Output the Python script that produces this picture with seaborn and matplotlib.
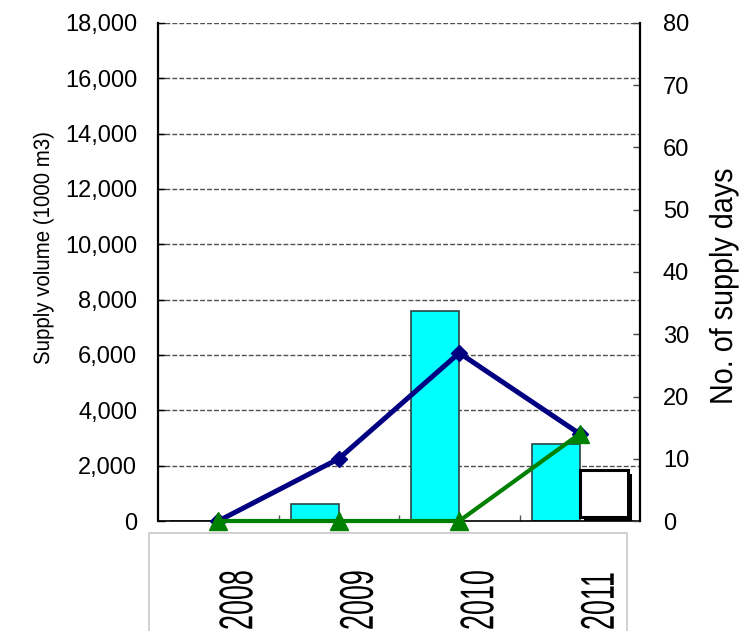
import matplotlib
matplotlib.use("Agg")
import matplotlib.pyplot as plt
import numpy as np
import pandas as pd
import seaborn as sns
from matplotlib.patches import Rectangle
from matplotlib.patheffects import AbstractPathEffect, SimplePatchShadow, Normal
from matplotlib.transforms import Affine2D, ScaledTranslation
from matplotlib.ticker import FuncFormatter

# ---- data -------------------------------------------------------------
years = ["2008", "2009", "2010", "2011"]
supply_volume = [0, 600, 7600, 2800]      # 1000 m3 (left axis)
supply_days = [0, 10, 27, 14]             # days (right axis)
other_days = [0, 0, 0, 14]                # days (right axis)

volume_ticks = np.arange(0, 18001, 2000)
day_ticks = np.arange(0, 81, 10)

bar_series = ["Supply volume", "Other volume"]

# ---- style ------------------------------------------------------------
sns.set_style("white")
plt.rcParams["font.family"] = ["Liberation Sans", "DejaVu Sans"]
plt.rcParams["text.color"] = "black"


class Condensed(AbstractPathEffect):
    """Draw text glyphs narrowed along the writing direction."""

    def __init__(self, factor):
        super().__init__()
        self._factor = factor

    def draw_path(self, renderer, gc, tpath, affine, rgbFace=None):
        renderer.draw_path(gc, tpath, Affine2D().scale(self._factor, 1.0) + affine, rgbFace)


W, H = 740, 631
fig = plt.figure(figsize=(W / 100, H / 100), dpi=100)
ax = fig.add_axes([158 / W, 1 - 521 / H, 482 / W, 498 / H])

# ---- bars (left axis) -------------------------------------------------
df = pd.DataFrame({"year": years, "volume": supply_volume, "series": bar_series[0]})
sns.barplot(data=df, x="year", y="volume", hue="series", hue_order=bar_series,
            palette=["#00FFFF", "white"], saturation=1, dodge=True, width=0.8,
            edgecolor="#2a4444", linewidth=1.2, legend=False, ax=ax)

ax.set_xlim(-0.5, 3.5)
ax.set_ylim(0, 18000)
ax.set_yticks(volume_ticks)
ax.yaxis.set_major_formatter(FuncFormatter(lambda v, p: f"{v:,.0f}"))
ax.set_xlabel("")
ax.set_ylabel("")
ax.grid(axis="y", color="#505050", linestyle=(0, (3.5, 1.5)), linewidth=1.0)
ax.grid(axis="x", visible=False)
ax.set_axisbelow(True)

ax.spines["top"].set_visible(False)
ax.spines["right"].set_visible(False)
ax.spines["left"].set_color("black")
ax.spines["left"].set_linewidth(1.6)
ax.spines["bottom"].set_color("black")
ax.spines["bottom"].set_linewidth(1.2)

ax.tick_params(axis="y", left=True, direction="in", length=5, width=1,
               color="black", pad=15, labelsize=17, labelcolor="black")
ax.set_xticks([0.5, 1.5, 2.5], minor=True)
ax.tick_params(axis="x", which="minor", bottom=True, direction="in",
               length=4.5, width=1, color="#555555")

# ---- lines (right axis) -----------------------------------------------
ax2 = ax.twinx()
sns.pointplot(x=years, y=supply_days, ax=ax2, color="#000080", marker="D",
              markersize=8.5, markeredgewidth=1, linewidth=3.6, errorbar=None,
              clip_on=False)
sns.pointplot(x=years, y=other_days, ax=ax2, color="#008000", marker="^",
              markersize=12.5, markeredgewidth=1, linewidth=3.0, errorbar=None,
              clip_on=False)
ax2.set_xlim(-0.5, 3.5)
ax2.set_ylim(0, 80)
ax2.set_yticks(day_ticks)
ax2.set_ylabel("")
ax2.set_xlabel("")
ax2.grid(False)
for side in ["top", "left", "bottom"]:
    ax2.spines[side].set_visible(False)
ax2.spines["right"].set_color("black")
ax2.spines["right"].set_linewidth(1.6)
ax2.tick_params(axis="y", right=True, left=False, labelright=True, labelleft=False,
                direction="in", length=5, width=1, color="#444444",
                pad=16.5, labelsize=17, labelcolor="black")

# empty legend frame with a drop shadow in the lower-right corner
legend_box = Rectangle((0.8755, 0.008), 0.0996, 0.0944, transform=ax2.transAxes,
                       facecolor="white", edgecolor="black", linewidth=2.2,
                       zorder=10, clip_on=False)
legend_box.set_path_effects([SimplePatchShadow(offset=(3, -3), shadow_rgbFace="black", alpha=1.0),
                             Normal()])
ax2.add_patch(legend_box)

# ---- axis titles ------------------------------------------------------
left_title = fig.text(49 / W, 1 - 365 / H, "Supply volume (1000 m3)", rotation=90,
                      rotation_mode="anchor", ha="left", va="baseline", fontsize=16)
left_title.set_path_effects([Condensed(0.92)])
right_title = fig.text(732 / W, 1 - 405 / H, "No. of supply days", rotation=90,
                       rotation_mode="anchor", ha="left", va="baseline", fontsize=23)
right_title.set_path_effects([Condensed(0.9)])

# ---- category label panel ---------------------------------------------
panel = Rectangle((149 / W, 1 - 650 / H), 478 / W, (650 - 533) / H,
                  transform=fig.transFigure, facecolor="none",
                  edgecolor="#c8c8c8", linewidth=1.2, clip_on=False)
fig.add_artist(panel)

ax.tick_params(axis="x", which="major", bottom=True, length=0, pad=78.5)
shift = ScaledTranslation(17 / 100, 0, fig.dpi_scale_trans)
for lab in ax.get_xticklabels():
    lab.set_rotation(90)
    lab.set_rotation_mode("anchor")
    lab.set_horizontalalignment("left")
    lab.set_verticalalignment("center_baseline")
    lab.set_fontsize(34)
    lab.set_color("black")
    lab.set_path_effects([Condensed(0.57)])
    lab.set_transform(lab.get_transform() + shift)

fig.savefig("out.png", dpi=100)
